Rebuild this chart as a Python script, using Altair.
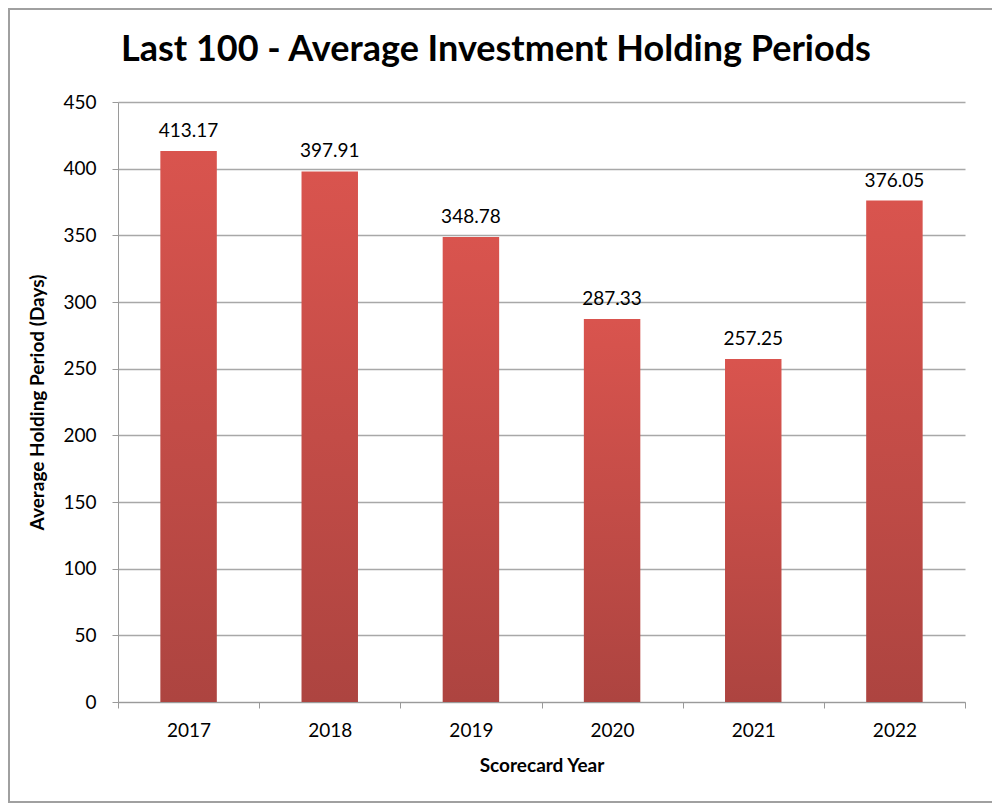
import altair as alt
import pandas as pd

years = ["2017", "2018", "2019", "2020", "2021", "2022"]
values = [413.17, 397.91, 348.78, 287.33, 257.25, 376.05]
labels = ["413.17", "397.91", "348.78", "287.33", "257.25", "376.05"]
title_text = "Last 100 - Average Investment Holding Periods"

df = pd.DataFrame({"year": years, "value": values, "label": labels})

FONT = "Lato"

x_enc = alt.X(
    "year:N",
    sort=years,
    scale=alt.Scale(paddingInner=0, paddingOuter=0),
    axis=alt.Axis(
        title="Scorecard Year",
        labelAngle=0,
        tickBand="extent",
        tickSize=6,
        labelPadding=13,
        titlePadding=16,
        labelFontSize=19,
        titleFontSize=19,
        titleFontWeight="bold",
        domainColor="#9a9a9a",
        tickColor="#9a9a9a",
        labelColor="#000000",
        titleColor="#000000",
        grid=False,
    ),
)

y_enc = alt.Y(
    "value:Q",
    scale=alt.Scale(domain=[0, 450], nice=False),
    axis=alt.Axis(
        title="Average Holding Period (Days)",
        values=[0, 50, 100, 150, 200, 250, 300, 350, 400, 450],
        tickSize=6,
        labelPadding=16,
        titlePadding=15,
        labelFontSize=19,
        titleFontSize=19,
        titleFontWeight="bold",
        domainColor="#9a9a9a",
        tickColor="#9a9a9a",
        gridColor="#a8a8a8",
        gridWidth=1.5,
        labelColor="#000000",
        titleColor="#000000",
    ),
)

bars = alt.Chart(df).mark_bar(
    width=alt.RelativeBandSize(0.4),
    fill=alt.Gradient(
        gradient="linear",
        stops=[
            alt.GradientStop(color="#d9544e", offset=0),
            alt.GradientStop(color="#ad4440", offset=1),
        ],
        x1=0, x2=0, y1=0, y2=1,
    ),
).encode(x=x_enc, y=y_enc)

text = alt.Chart(df).mark_text(
    dy=-10, baseline="bottom", fontSize=19, font=FONT, color="#000000"
).encode(x=alt.X("year:N", sort=years), y="value:Q", text="label:N")

frame = alt.Chart(df).mark_rect(
    fill=None, stroke="#a0a0a0", strokeWidth=2
).encode(
    x=alt.value(-109), x2=alt.value(876), y=alt.value(-93), y2=alt.value(700)
)

title = alt.Chart(pd.DataFrame({"t": [title_text]})).mark_text(
    fontSize=36, font=FONT, fontWeight="bold", color="#000000",
    align="center", baseline="middle",
).encode(x=alt.value(378), y=alt.value(-52), text="t:N")

chart = alt.layer(bars, text, frame, title).properties(
    width=847,
    height=600,
    autosize=alt.AutoSizeParams(type="none"),
    padding={"left": 110, "top": 94, "right": 27, "bottom": 104},
).configure(font=FONT, background="#ffffff").configure_view(stroke=None).configure_axis(
    labelFont=FONT, titleFont=FONT
)

chart.save("out.html", embed_options={"renderer": "svg", "actions": False})
